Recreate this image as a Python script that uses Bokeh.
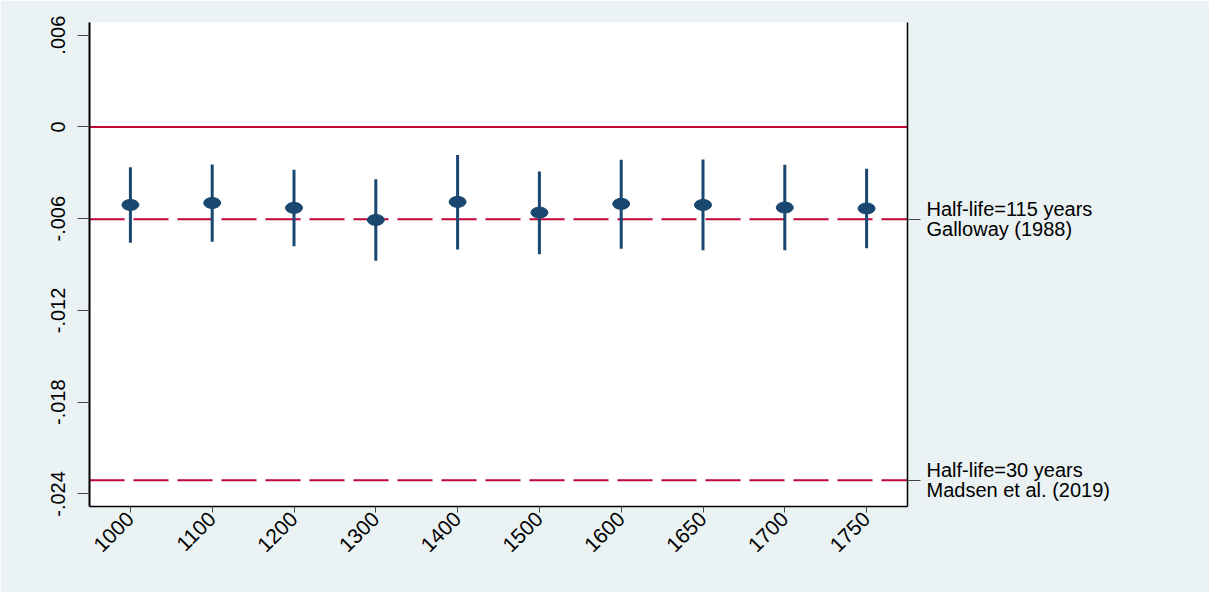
from bokeh.plotting import figure
from bokeh.models import FixedTicker, LinearAxis, Span, Range1d, ColumnDataSource
from bokeh.embed import file_html
from bokeh.resources import INLINE
import math

# ---- data ----
periods = ["1000", "1100", "1200", "1300", "1400", "1500", "1600", "1650", "1700", "1750"]
estimate = [-0.00510, -0.00497, -0.00529, -0.00608, -0.00490, -0.00560, -0.00503, -0.00510, -0.00527, -0.00533]
ci_high = [-0.00264, -0.00246, -0.00280, -0.00342, -0.00183, -0.00291, -0.00215, -0.00213, -0.00248, -0.00274]
ci_low = [-0.00758, -0.00750, -0.00780, -0.00875, -0.00801, -0.00832, -0.00796, -0.00807, -0.00807, -0.00794]

y_ticks = [0.006, 0.0, -0.006, -0.012, -0.018, -0.024]
y_tick_labels = [".006", "0", "-.006", "-.012", "-.018", "-.024"]

ref_values = [-0.00603, -0.0231]
ref_labels = ["Half-life=115 years\nGalloway (1988)", "Half-life=30 years\nMadsen et al. (2019)"]

# ---- styles ----
BG = "#EAF2F3"
NAVY = "#1a476f"
RED = "#c10534"
FONT = "Liberation Sans"

src = ColumnDataSource(dict(x=periods, est=estimate, hi=ci_high, lo=ci_low))

p = figure(x_range=periods, y_range=Range1d(-0.02482, 0.00683),
           frame_width=818, frame_height=484,
           min_border_left=89, min_border_right=302, min_border_top=22, min_border_bottom=86,
           output_backend="svg", toolbar_location=None,
           background_fill_color="white", border_fill_color=BG)
p.outline_line_color = None
p.grid.visible = False

# reference lines
p.add_layout(Span(location=0.0, dimension="width", line_color=RED, line_width=2, level="underlay"))
for v in ref_values:
    p.add_layout(Span(location=v, dimension="width", line_color=RED, line_width=2,
                      line_dash="35 9", level="underlay"))

# CI bars and estimates
p.segment(x0="x", y0="lo", x1="x", y1="hi", source=src, line_color=NAVY, line_width=3)
p.ellipse(x="x", y="est", width=17, height=11, width_units="screen", height_units="screen",
          source=src, fill_color=NAVY, line_color=NAVY)

# left axis
ya = p.yaxis[0]
ya.ticker = FixedTicker(ticks=y_ticks)
ya.major_label_overrides = {t: l for t, l in zip(y_ticks, y_tick_labels)}
ya.major_label_orientation = "vertical"
ya.major_label_text_font = FONT
ya.major_label_text_font_size = "20px"
ya.major_label_text_color = "black"
ya.major_label_standoff = 12
ya.major_tick_out = 12
ya.major_tick_in = 0
ya.major_tick_line_color = "#444444"
ya.minor_tick_line_color = None
ya.axis_line_color = "black"
ya.axis_line_width = 2

# bottom axis
xa = p.xaxis[0]
xa.major_label_orientation = math.pi / 4
xa.major_label_text_font = FONT
xa.major_label_text_font_size = "21px"
xa.major_label_text_color = "black"
xa.major_label_standoff = 3
xa.major_tick_out = 6
xa.major_tick_in = 0
xa.major_tick_line_color = "#444444"
xa.axis_line_color = "black"
xa.axis_line_width = 1.5

# right axis with reference labels
ra = LinearAxis(ticker=FixedTicker(ticks=ref_values))
ra.major_label_overrides = {v: l for v, l in zip(ref_values, ref_labels)}
ra.major_label_text_font = FONT
ra.major_label_text_font_size = "20px"
ra.major_label_text_color = "black"
ra.major_label_text_line_height = 0.9
ra.major_label_standoff = 6
ra.major_tick_out = 13
ra.major_tick_in = 0
ra.major_tick_line_color = "#444444"
ra.minor_tick_line_color = None
ra.axis_line_color = "black"
ra.axis_line_width = 1.5
p.add_layout(ra, "right")

open("out.html", "w").write(file_html(p, INLINE))
